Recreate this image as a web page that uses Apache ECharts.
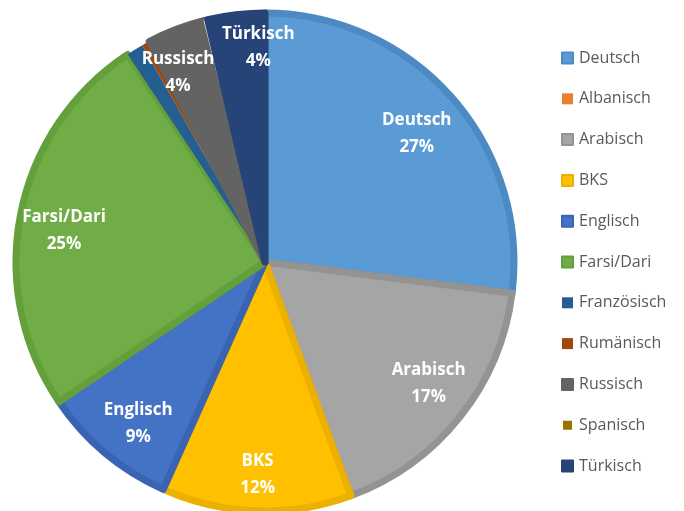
<!DOCTYPE html>
<html>
<head>
<meta charset="utf-8">
<script src="https://cdn.jsdelivr.net/npm/echarts@6/dist/echarts.min.js"></script>
<style>
  html, body { margin: 0; padding: 0; background: #fff; }
  #main { width: 684px; height: 511px; }
</style>
</head>
<body>
<div id="main"></div>
<script>
// Sprachen und Anteile (%), im Uhrzeigersinn ab 12 Uhr
var languages = ['Deutsch', 'Albanisch', 'Arabisch', 'BKS', 'Englisch', 'Farsi/Dari',
  'Französisch', 'Rumänisch', 'Russisch', 'Spanisch', 'Türkisch'];
var shares = [27.0, 0, 17.4, 12.3, 8.8, 25.2, 1.1, 0.5, 3.8, 0.2, 3.7];
var colors = ['#5b9bd5', '#ed7d31', '#a5a5a5', '#ffc000', '#4472c4', '#70ad47',
  '#255e91', '#9e480e', '#636363', '#997300', '#264478'];
var borders = ['#4d8ac4', '#ed7d31', '#939393', '#ebb000', '#3a64b2', '#63a03c',
  '#255e91', '#9e480e', '#636363', '#ffffff', '#264478'];

// kleine Verschiebungen der Beschriftungen wie im Original
var labelShift = {
  'Deutsch': [-8, 13], 'Arabisch': [-3, -11], 'Farsi/Dari': [8, 10],
  'Englisch': [10, -2], 'Russisch': [-11, 10], 'Türkisch': [18, -3]
};

var chart = echarts.init(document.getElementById('main'));

var slices = [];
var labelItems = [];
for (var i = 0; i < languages.length; i++) {
  slices.push({
    name: languages[i],
    value: shares[i],
    itemStyle: {
      color: colors[i],
      borderColor: borders[i],
      borderWidth: shares[i] >= 2 ? 7 : (languages[i] === 'Spanisch' ? 2 : 0)
    }
  });
  labelItems.push({
    name: languages[i],
    value: shares[i],
    label: { show: shares[i] >= 3, offset: labelShift[languages[i]] || [0, 0] }
  });
}

var option = {
  backgroundColor: '#ffffff',
  animation: false,
  legend: {
    orient: 'vertical',
    left: 556,
    top: 45,
    itemWidth: 11,
    itemHeight: 11,
    itemGap: 24.8,
    icon: 'rect',
    data: languages,
    textStyle: { fontFamily: 'Open Sans', fontSize: 16, color: '#595959', padding: [0, 0, 0, 1] }
  },
  series: [{
    name: 'Sprachen',
    type: 'pie',
    center: [265, 262],
    radius: 249,
    startAngle: 90,
    clockwise: true,
    silent: true,
    label: { show: false },
    labelLine: { show: false },
    data: slices
  }, {
    name: 'Beschriftung',
    type: 'pie',
    center: [265, 262],
    radius: [155, 265],
    startAngle: 90,
    clockwise: true,
    silent: true,
    avoidLabelOverlap: false,
    labelLayout: { hideOverlap: false },
    itemStyle: { color: 'rgba(0,0,0,0)' },
    labelLine: { show: false },
    label: {
      position: 'inside',
      color: '#ffffff',
      fontFamily: 'Open Sans',
      fontWeight: 'bold',
      fontSize: 17,
      lineHeight: 27,
      formatter: function (p) {
        return p.name + '\n' + Math.round(p.percent) + '%';
      }
    },
    data: labelItems
  }]
};

chart.setOption(option);
</script>
</body>
</html>
